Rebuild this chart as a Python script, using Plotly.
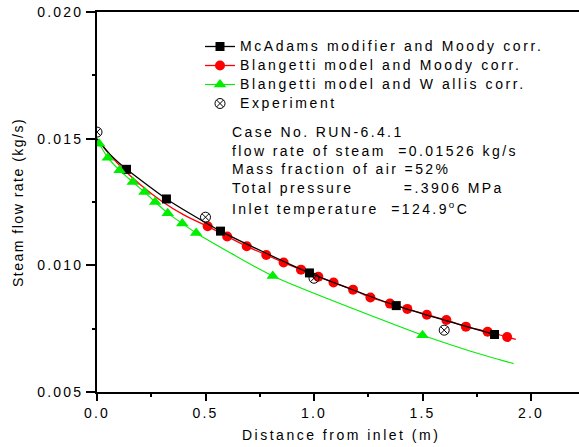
import plotly.graph_objects as go

# ---------------- data ----------------
# McAdams modifier and Moody corr. (black squares)
mcadams_x = [0.136, 0.32, 0.569, 0.979, 1.379, 1.832]
mcadams_y = [0.01379, 0.01262, 0.01135, 0.00970, 0.00841, 0.00727]
mcadams_start_x = [0.0, 0.06, 0.136]
mcadams_start_y = [0.01500, 0.01438, 0.01379]

# Blangetti model and Moody corr. (red circles)
blm_x = [0.51, 0.60, 0.69, 0.78, 0.86, 0.94, 1.02, 1.09, 1.18, 1.26,
         1.35, 1.43, 1.52, 1.61, 1.70, 1.80, 1.89]
blm_y = [0.01154, 0.01114, 0.01075, 0.01041, 0.01011, 0.00983, 0.00955,
         0.00932, 0.00904, 0.00873, 0.00849, 0.00828, 0.00805, 0.00784,
         0.00758, 0.00738, 0.00717]
blm_start_x = [0.0, 0.1, 0.2, 0.3, 0.4, 0.51]
blm_start_y = [0.01498, 0.01398, 0.01318, 0.01252, 0.01199, 0.01154]
blm_end_x = [1.89, 1.93]
blm_end_y = [0.00717, 0.00708]

# Blangetti model and Wallis corr. (green triangles)
blw_x = [0.01, 0.05, 0.104, 0.165, 0.219, 0.268, 0.326, 0.393, 0.457, 0.81, 1.5]
blw_y = [0.01480, 0.01425, 0.01375, 0.01329, 0.01289, 0.01250, 0.01206,
         0.01165, 0.01128, 0.00958, 0.00724]
blw_end_x = [1.5, 1.7, 1.92]
blw_end_y = [0.00724, 0.00667, 0.00612]

# Experiment
exp_x = [0.0, 0.5, 1.0, 1.6]
exp_y = [0.01526, 0.01190, 0.00949, 0.00744]

# tick labels
x_tickvals = [0.0, 0.5, 1.0, 1.5, 2.0]
x_ticklabels = ["0.0", "0.5", "1.0", "1.5", "2.0"]
y_tickvals = [0.005, 0.010, 0.015, 0.020]
y_ticklabels = ["0.005", "0.010", "0.015", "0.020"]

legend_names = ["McAdams modifier and Moody corr.",
                "Blangetti model and Moody corr.",
                "Blangetti model and W allis corr.",
                "Experiment"]

NB = "\u00a0"
info_lines = ["Case No. RUN-6.4.1",
              "flow rate of steam" + NB * 2 + "=0.01526 kg/s",
              "Mass fraction of air =52%",
              "Total pressure" + NB * 8 + "=.3906 MPa",
              "Inlet temperature" + NB * 2 + "=124.9<sup>o</sup>C"]

# ---------------- layout helpers ----------------
W, H = 579, 447
L, R, T, B = 97, 0, 12, 55
PW, PH = W - L - R, H - T - B
FONT = "Arial, Liberation Sans, sans-serif"


def sp(text, s=2.5, size=None):
    st = f"letter-spacing:{s}px"
    if size:
        st += f";font-size:{size}px"
    return f'<span style="{st}">{text}</span>'


def px_x(px):
    return (px - L) / PW


def px_y(py):
    return (H - B - py) / PH


fig = go.Figure()

# extension lines (no legend)
fig.add_trace(go.Scatter(x=blm_start_x, y=blm_start_y, mode="lines",
                         line=dict(color="#ff0000", width=1.3, shape="spline"),
                         showlegend=False, hoverinfo="skip"))
fig.add_trace(go.Scatter(x=blm_end_x, y=blm_end_y, mode="lines",
                         line=dict(color="#ff0000", width=1.3),
                         showlegend=False, hoverinfo="skip"))
fig.add_trace(go.Scatter(x=mcadams_start_x, y=mcadams_start_y, mode="lines",
                         line=dict(color="#000000", width=1.3, shape="spline"),
                         showlegend=False, hoverinfo="skip"))
fig.add_trace(go.Scatter(x=blw_end_x, y=blw_end_y, mode="lines",
                         line=dict(color="#00ee00", width=1.1, shape="spline"),
                         showlegend=False, hoverinfo="skip"))

# main series
fig.add_trace(go.Scatter(x=blm_x, y=blm_y, mode="lines+markers",
                         name=sp(legend_names[1], 2.6, 14), legendrank=2,
                         line=dict(color="#ff0000", width=1.3, shape="spline", smoothing=0.6),
                         marker=dict(symbol="circle", size=10, color="#ff0000")))
fig.add_trace(go.Scatter(x=mcadams_x, y=mcadams_y, mode="lines+markers",
                         name=sp(legend_names[0], 2.6, 14), legendrank=1,
                         line=dict(color="#000000", width=1.3, shape="spline", smoothing=0.6),
                         marker=dict(symbol="square", size=9, color="#000000")))
fig.add_trace(go.Scatter(x=blw_x, y=blw_y, mode="lines+markers",
                         name=sp(legend_names[2], 2.6, 14), legendrank=3,
                         line=dict(color="#00ee00", width=1.1, shape="spline", smoothing=0.6),
                         marker=dict(symbol="triangle-up", size=11, color="#00ee00")))
fig.add_trace(go.Scatter(x=exp_x, y=exp_y, mode="markers",
                         name=sp(legend_names[3], 2.6, 14), legendrank=4,
                         marker=dict(symbol="circle-x-open", size=10, color="#000000",
                                     line=dict(width=1))))

# info annotations
rows_py = [131.7, 151.0, 169.3, 188.3, 207.7]
ann = []
for i, t in enumerate(info_lines):
    ann.append(dict(text=sp(t, 2.4), x=px_x(229.5), y=px_y(rows_py[i]), xref="paper", yref="paper",
                    xanchor="left", yanchor="middle", showarrow=False,
                    font=dict(family=FONT, size=14, color="black")))

# axis titles as annotations
ann.append(dict(text=sp("Distance from inlet (m)"), x=px_x(340.5), y=px_y(435), xref="paper",
                yref="paper", xanchor="center", yanchor="middle", showarrow=False,
                font=dict(family=FONT, size=14, color="black")))
ann.append(dict(text=sp("Steam flow rate (kg/s)", 1.5), x=px_x(18), y=px_y(203), xref="paper",
                yref="paper", xanchor="center", yanchor="middle", showarrow=False, textangle=-90,
                font=dict(family=FONT, size=14, color="black")))

fig.update_layout(
    width=W, height=H,
    margin=dict(l=L, r=R, t=T, b=B),
    paper_bgcolor="white", plot_bgcolor="white",
    font=dict(family=FONT, size=14, color="black"),
    showlegend=True,
    legend=dict(x=px_x(200), y=px_y(32), xanchor="left", yanchor="top",
                bgcolor="rgba(0,0,0,0)", font=dict(family=FONT, size=12),
                tracegroupgap=0, itemsizing="trace"),
    annotations=ann,
    xaxis=dict(range=[0, PW / 217.0], showgrid=False, zeroline=False,
               showline=True, linecolor="black", linewidth=2, mirror=True,
               ticks="outside", ticklen=7, tickwidth=2, tickcolor="black",
               tickvals=x_tickvals, ticktext=[sp(t, 2.2) for t in x_ticklabels],
               tickfont=dict(family=FONT, size=14),
               minor=dict(ticks="outside", ticklen=3, tickwidth=2, tickcolor="black", dtick=0.25,
                          showgrid=False)),
    yaxis=dict(range=[0.005, 0.020], showgrid=False, zeroline=False,
               showline=True, linecolor="black", linewidth=2, mirror=False,
               ticks="outside", ticklen=9, tickwidth=2, tickcolor="black",
               tickvals=y_tickvals, ticktext=[sp(t, 2.2) for t in y_ticklabels],
               tickfont=dict(family=FONT, size=14),
               minor=dict(ticks="outside", ticklen=3, tickwidth=2, tickcolor="black", dtick=0.0025,
                          showgrid=False)),
)

fig.write_html("out.html")
